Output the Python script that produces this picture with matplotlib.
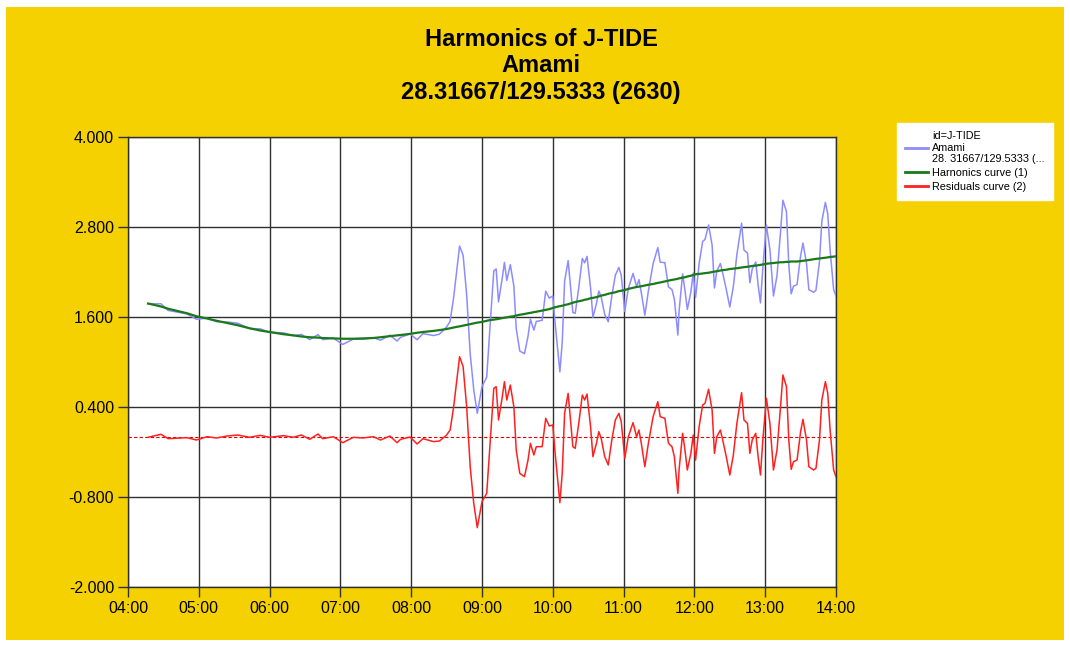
import numpy as np
import matplotlib
matplotlib.use("Agg")
import matplotlib.pyplot as plt
from matplotlib.patches import Rectangle
from matplotlib.ticker import FuncFormatter

plt.rcParams['font.family'] = ['Liberation Sans', 'DejaVu Sans']

# time of each sample, minutes after 00:00
minutes = [257, 268, 274, 290, 298, 307, 315, 324, 333, 343, 352, 360, 372, 380,
           387, 394, 401, 405, 414, 422, 431, 439, 448, 454, 462, 468, 471, 479,
           485, 490, 499, 504, 510, 513, 516, 519, 521, 524, 527, 530, 533, 536,
           540, 544, 547, 550, 552, 554, 557, 559, 561, 564, 567, 569, 572, 576,
           579, 581, 584, 586, 591, 594, 597, 600, 602, 606, 608, 610, 613, 615,
           617, 619, 622, 625, 627, 629, 632, 634, 637, 639, 641, 644, 647, 650,
           653, 656, 658, 661, 664, 668, 671, 673, 675, 678, 681, 685, 689, 691,
           695, 698, 701, 703, 706, 707, 710, 712, 714, 717, 719, 721, 724, 727,
           729, 732, 735, 737, 739, 742, 744, 747, 750, 753, 756, 760, 762, 765,
           767, 769, 772, 774, 776, 778, 781, 784, 787, 790, 793, 795, 798, 800,
           802, 804, 807, 810, 812, 815, 817, 821, 823, 826, 828, 831, 833, 835,
           838, 840]

# predicted tide from harmonic constants (m)
harmonics = [1.78, 1.74, 1.71, 1.65, 1.61, 1.58, 1.55, 1.52, 1.49, 1.45, 1.42, 1.40,
             1.37, 1.355, 1.34, 1.33, 1.325, 1.32, 1.315, 1.31, 1.31, 1.315, 1.32,
             1.33, 1.345, 1.355, 1.36, 1.375, 1.39, 1.40, 1.415, 1.425, 1.44, 1.45,
             1.46, 1.47, 1.475, 1.485, 1.495, 1.505, 1.515, 1.525, 1.535, 1.55,
             1.56, 1.565, 1.57, 1.575, 1.585, 1.59, 1.595, 1.605, 1.61, 1.62, 1.63,
             1.64, 1.65, 1.655, 1.665, 1.67, 1.685, 1.695, 1.705, 1.72, 1.73, 1.745,
             1.75, 1.76, 1.77, 1.78, 1.79, 1.80, 1.81, 1.82, 1.83, 1.835, 1.85,
             1.855, 1.865, 1.875, 1.885, 1.895, 1.91, 1.92, 1.93, 1.945, 1.95,
             1.96, 1.975, 1.99, 2.00, 2.005, 2.01, 2.02, 2.03, 2.04, 2.055, 2.06,
             2.075, 2.085, 2.095, 2.10, 2.11, 2.115, 2.125, 2.13, 2.14, 2.15, 2.16,
             2.17, 2.175, 2.18, 2.185, 2.19, 2.20, 2.205, 2.21, 2.22, 2.225, 2.23,
             2.24, 2.245, 2.25, 2.26, 2.265, 2.27, 2.275, 2.28, 2.285, 2.29, 2.295,
             2.30, 2.31, 2.315, 2.32, 2.325, 2.33, 2.33, 2.335, 2.335, 2.34, 2.34,
             2.34, 2.345, 2.35, 2.355, 2.36, 2.37, 2.375, 2.38, 2.385, 2.39, 2.395,
             2.40, 2.405, 2.41]

# observed minus predicted (m)
residuals = [-0.004, 0.036, -0.022, -0.009, -0.040, 0.004, -0.013, 0.013, 0.027,
             -0.004, 0.022, -0.004, 0.018, -0.004, 0.027, -0.031, 0.040, -0.022,
             0.004, -0.076, -0.004, -0.013, 0.004, -0.040, 0.013, -0.076, -0.031,
             0.0, -0.093, -0.022, -0.062, -0.053, 0.027, 0.093, 0.404, 0.804,
             1.071, 0.938, 0.404, -0.396, -0.884, -1.209, -0.862, -0.751, -0.040,
             0.649, 0.671, 0.227, 0.516, 0.738, 0.493, 0.693, 0.404, -0.173,
             -0.484, -0.529, -0.307, -0.084, -0.240, -0.129, -0.129, 0.249, 0.147,
             0.160, -0.218, -0.876, -0.484, 0.316, 0.582, 0.227, -0.129, -0.151,
             0.182, 0.560, 0.493, 0.573, 0.138, -0.262, -0.084, 0.071, -0.018,
             -0.262, -0.373, -0.040, 0.227, 0.316, 0.204, -0.284, 0.004, 0.191,
             0.004, 0.093, -0.084, -0.396, -0.084, 0.271, 0.471, 0.271, 0.249,
             -0.084, -0.129, -0.262, -0.751, -0.440, 0.049, -0.173, -0.440, -0.218,
             0.027, -0.307, 0.138, 0.427, 0.449, 0.636, 0.360, -0.218, 0.004,
             0.093, -0.040, -0.262, -0.507, -0.240, 0.182, 0.591, 0.227, 0.182,
             -0.218, -0.040, 0.049, -0.262, -0.507, -0.040, 0.516, 0.182, -0.440,
             -0.173, 0.404, 0.827, 0.671, -0.040, -0.431, -0.329, -0.307, 0.071,
             0.236, -0.040, -0.396, -0.440, -0.418, -0.040, 0.493, 0.738, 0.582,
             0.093, -0.440, -0.529]

title_lines = ["Harmonics of J-TIDE", "Amami", "28.31667/129.5333 (2630)"]
legend_labels = ["id=J-TIDE\nAmami\n28. 31667/129.5333 (...",
                 "Harnonics curve (1)", "Residuals curve (2)"]
y_ticks = [-2.0, -0.8, 0.4, 1.6, 2.8, 4.0]
x_ticks = list(range(240, 841, 60))

t = np.array(minutes, dtype=float)
harm = np.array(harmonics)
resid = np.array(residuals)
observed = harm + resid

W, H = 1070, 647
yellow = '#F5D102'

fig = plt.figure(figsize=(W / 100, H / 100), dpi=100)
fig.patch.set_facecolor('white')
# yellow panel behind everything, leaving a thin white margin
fig.patches.append(Rectangle((6 / W, 1 - 640 / H), (1064 - 6) / W, (640 - 7) / H,
                             transform=fig.transFigure, facecolor=yellow,
                             edgecolor='none', zorder=-10))

for i, line in enumerate(title_lines):
    fig.text(541 / W, 1 - (40 + 26 * i) / H, line, ha='center', va='center',
             fontsize=17, fontweight='bold', color='black')

ax = fig.add_axes([128 / W, 1 - 587 / H, 708 / W, 450 / H])
ax.set_facecolor('white')
ax.set_zorder(1)

l_obs, = ax.plot(t, observed, color='#8C8CFF', lw=1.1, zorder=3)
l_harm, = ax.plot(t, harm, color='#1A7A1A', lw=1.6, zorder=4)
l_res, = ax.plot(t, resid, color='#FF2020', lw=1.1, zorder=5)
ax.axhline(0, color='#E00000', lw=0.8, ls=(0, (3, 2)), zorder=4)

ax.set_xlim(240, 840)
ax.set_ylim(-2.0, 4.0)
ax.set_xticks(x_ticks)
ax.set_yticks(y_ticks)
ax.xaxis.set_major_formatter(FuncFormatter(lambda v, p: "%02d:%02d" % (v // 60, v % 60)))
ax.yaxis.set_major_formatter(FuncFormatter(lambda v, p: "%.3f" % v))
ax.grid(True, color='#303030', lw=1.0, zorder=1)
ax.set_axisbelow(True)
for s in ax.spines.values():
    s.set_color('#303030')
    s.set_linewidth(1.0)
ax.tick_params(direction='out', length=7, width=1.0, color='#303030',
               labelsize=11.5, pad=3)

leg = fig.legend([l_obs, l_harm, l_res], legend_labels,
                 loc='upper left', bbox_to_anchor=(897 / W, 1 - 123 / H),
                 fontsize=7.8, frameon=True, fancybox=False, framealpha=1,
                 handlelength=2.1, handletextpad=0.4, labelspacing=0.35,
                 borderpad=0.75, borderaxespad=0)
leg.get_frame().set_facecolor('white')
leg.get_frame().set_edgecolor('white')
for ln in leg.get_lines():
    ln.set_linewidth(2.0)

fig.savefig('out.png', dpi=100, facecolor=fig.get_facecolor())
